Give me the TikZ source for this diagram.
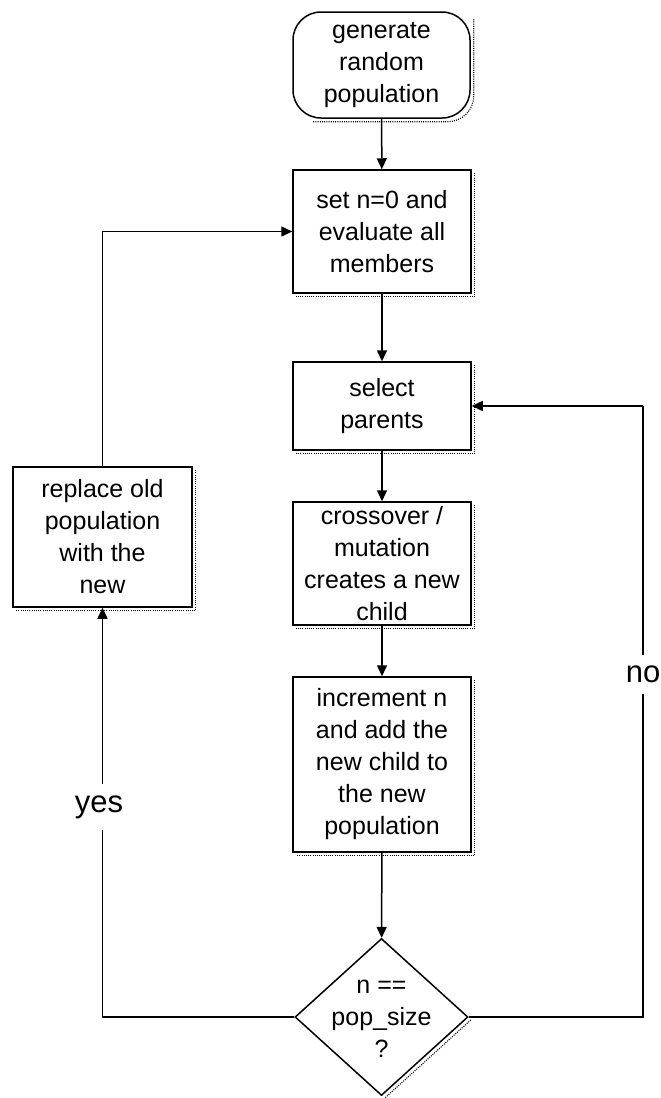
\documentclass[tikz,border=0pt]{standalone}
\usepackage{fontspec}
\setmainfont{Liberation Sans}
\usetikzlibrary{arrows.meta,shapes.geometric}
\begin{document}
\begin{tikzpicture}[x=1pt,y=-1pt,
  every node/.style={font=\fontsize{25}{32}\selectfont, align=center, inner sep=0pt},
  box/.style={draw, line width=1.5pt, rectangle, minimum width=178pt},
  term/.style={draw, line width=1.5pt, rectangle, rounded corners=28pt, minimum width=177pt, minimum height=106pt},
  dia/.style={draw, line width=1.5pt, diamond, minimum width=173pt, minimum height=157pt},
  arr/.style={line width=1.5pt, -{Triangle[length=11pt,width=10pt]}},
  conn/.style={line width=1.5pt},
  shadowline/.style={line width=1.1pt, dash pattern=on 1pt off 1.2pt},
  lbl/.style={font=\fontsize{31}{34}\selectfont, fill=white, inner xsep=2pt, inner ysep=11pt}]
\useasboundingbox (0,0) rectangle (661,1098);

\node[term] (t) at (381.5,65) {generate\\random\\population};
\node[box, minimum height=123pt] (n2) at (382,231.5) {set n=0 and\\evaluate all\\members};
\node[box, minimum height=88pt] (n3) at (382,406) {select\\parents};
\node[box, minimum height=123pt] (n4) at (382,563.5) {crossover /\\mutation\\creates a new\\child};
\node[box, minimum height=175pt] (n5) at (382,764.5) {increment n\\and add the\\new child to\\the new\\population};
\node[dia] (d) at (381.5,1017) {};
\node (dt) at (381.5,1019) {n ==\\pop\_size\\?};
\node[box, minimum width=179pt, minimum height=140pt] (lb) at (102.5,537) {replace old\\population\\with the\\new};
\coordinate (rc) at (643,406);

% shadows
\foreach \n in {n2,n3,n4,n5,lb}{
  \draw[shadowline] ([shift={(3,4)}]\n.north east) -- ([shift={(3,3)}]\n.south east) -- ([shift={(4,3)}]\n.south west);
}
\draw[shadowline, rounded corners=26pt] ([shift={(3,8)}]t.north east) -- ([shift={(3,3)}]t.south east) -- ([shift={(20,3)}]t.south west);
\draw[shadowline] ([shift={(2,3)}]d.east) -- ([shift={(2,3)}]d.south);

% connectors
\draw[arr] (t) -- (n2);
\draw[arr] (n2) -- (n3);
\draw[arr] (n3) -- (n4);
\draw[arr] (n4) -- (n5);
\draw[arr] (n5) -- (d);
\draw[arr] (d.west) -| (lb.south);
\draw[arr] (lb.north) |- (n2.west);
\draw[conn] (d.east) -| (rc);
\draw[arr] (rc) -- (n3.east);

\node[lbl] (yes) at (99,807) {yes};
\node[lbl] (no) at (643,674) {no};
\end{tikzpicture}
\end{document}
